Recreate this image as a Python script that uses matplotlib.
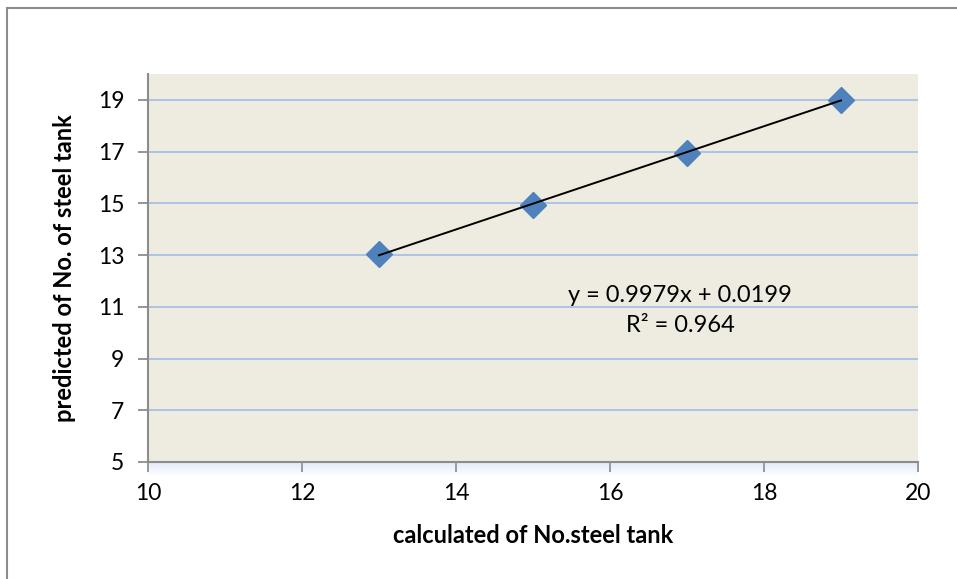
import numpy as np
import matplotlib
matplotlib.use("Agg")
import matplotlib.pyplot as plt
from matplotlib.lines import Line2D

plt.rcParams['font.family'] = ['Lato', 'DejaVu Sans']

# calculated vs predicted number of steel tanks
calculated = [13, 15, 17, 19]
predicted = [13.05, 14.95, 16.95, 19.0]

slope = 0.9979
intercept = 0.0199
r_squared = 0.964

x_ticks = [10, 12, 14, 16, 18, 20]
y_ticks = [5, 7, 9, 11, 13, 15, 17, 19]

fig = plt.figure(figsize=(9.57, 5.79), dpi=100)
ax = fig.add_axes([0.1546, 0.2021, 0.8046, 0.670])
ax.set_facecolor('#EEEBE1')

# faint shadow under the plot area
for i in range(12):
    a = 0.28 * (1 - i / 12)
    ax.add_patch(plt.Rectangle((0.0, -0.002 - (i + 1) * 0.0028), 1.0, 0.0028,
                               transform=ax.transAxes, color='#9DB9E4',
                               alpha=a, lw=0, clip_on=False))

ax.set_xlim(10, 20)
ax.set_ylim(5, 20.0)
ax.set_xticks(x_ticks)
ax.set_yticks(y_ticks)
ax.grid(axis='y', color='#A9C0E6', lw=1.3)
ax.set_axisbelow(True)

for s in ['top', 'right']:
    ax.spines[s].set_visible(False)
for s in ['left', 'bottom']:
    ax.spines[s].set_color('#8C8C8C')
    ax.spines[s].set_linewidth(1.5)
ax.tick_params(direction='out', length=7, width=1.3, color='#8C8C8C',
               labelsize=16.5, pad=8)
ax.tick_params(axis='y', pad=10)

xs = np.array([min(calculated), max(calculated)])
ax.plot(xs, slope * xs + intercept, color='black', lw=1.4, zorder=3)
ax.plot(calculated, predicted, linestyle='none', marker='D', markersize=13.5,
        color='#4F81BD', zorder=2)

ax.text(16.91, 11.44, 'y = %.4fx + %.4f' % (slope, intercept), fontsize=17,
        ha='center', va='center')
ax.text(16.91, 10.28, 'R² = %.3f' % r_squared, fontsize=17,
        ha='center', va='center')

ax.set_xlabel('calculated of No.steel tank', fontsize=17, fontweight='bold')
ax.set_ylabel('predicted of No. of steel tank', fontsize=17, fontweight='bold')
ax.xaxis.set_label_coords(0.5, -0.16)
ax.yaxis.set_label_coords(-0.094, 0.5)

# chart frame
fig.add_artist(Line2D([7.5 / 957, 7.5 / 957], [0, 1 - 7.5 / 579],
                      transform=fig.transFigure, color='#8C8C8C', lw=1.5))
fig.add_artist(Line2D([7.5 / 957, 1], [1 - 7.5 / 579, 1 - 7.5 / 579],
                      transform=fig.transFigure, color='#8C8C8C', lw=1.5))

fig.savefig('out.png', dpi=100)
